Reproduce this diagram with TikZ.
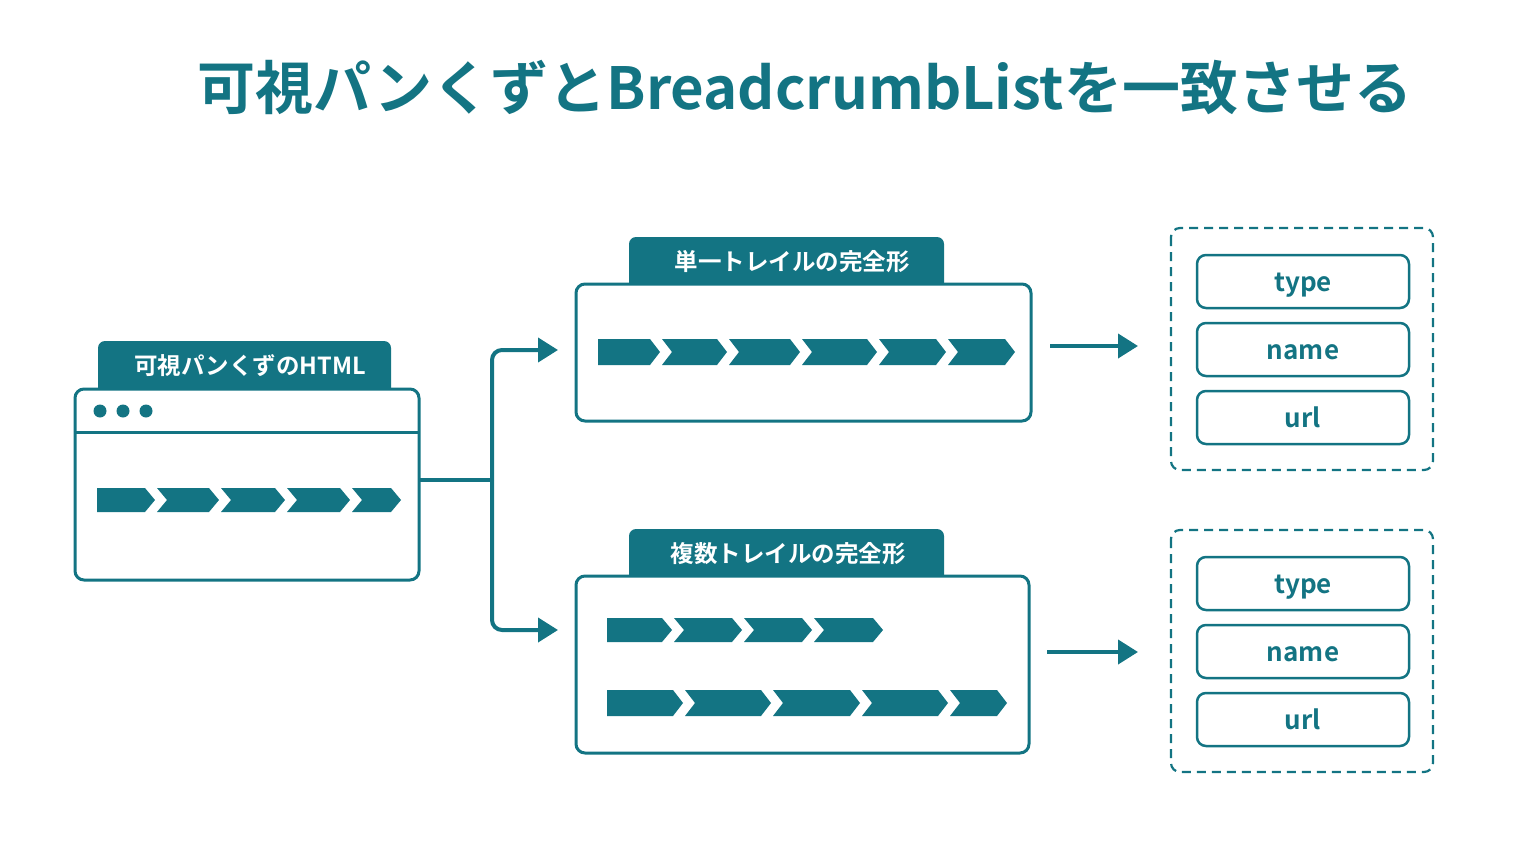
\documentclass[tikz,border=0pt]{standalone}
\usepackage{fontspec}
\setmainfont{Noto Sans CJK JP}
\newfontfamily\jpb{Noto Sans CJK JP Bold}
\usetikzlibrary{arrows.meta}
\definecolor{tl}{HTML}{137483}
\newcommand{\chevA}[4]{\fill[tl] (#1,#3)--(#2-10,#3)--(#2,{(#3+#4)/2})--(#2-10,#4)--(#1,#4)--cycle;}
\newcommand{\chevB}[4]{\fill[tl] (#1+2,#3)--(#2-10,#3)--(#2,{(#3+#4)/2})--(#2-10,#4)--(#1+2,#4)--(#1+12,{(#3+#4)/2})--cycle;}
\tikzset{box/.style={draw=tl,line width=3pt,rounded corners=9pt,fill=white},
tabtxt/.style={text=white,font=\jpb\fontsize{23.5}{25}\selectfont},
fld/.style={draw=tl,line width=2.5pt,rounded corners=9pt,minimum width=212pt,minimum height=53pt,text=tl,font=\jpb\fontsize{26}{28}\selectfont,text height=19pt,text depth=0pt},
dbox/.style={draw=tl,line width=2.2pt,dash pattern=on 9pt off 6pt,rounded corners=9pt},
con/.style={draw=tl,line width=4pt},
arr/.style={con,-{Triangle[length=20pt,width=24pt]}}}
\begin{document}
\begin{tikzpicture}[x=1pt,y=-1pt]
\useasboundingbox (0,0) rectangle (1536,864);
\node[text=tl,font=\jpb\fontsize{58}{60}\selectfont] (title) at (805,88) {可視パンくずとBreadcrumbListを一致させる};
% left
\fill[tl,rounded corners=7pt] (98,395) rectangle (391,341);
\node[tabtxt] (t1) at (250,366) {可視パンくずのHTML};
\draw[box] (75,389) rectangle (419,580);
\coordinate (lr) at (419,480);
\draw[tl,line width=3pt] (75,432)--(419,432);
\foreach \x in {100,123,146} \fill[tl] (\x,411) circle (6.5);
\chevA{97}{155}{488}{512}
\chevB{155}{219}{488}{512}
\chevB{219}{285}{488}{512}
\chevB{285}{350}{488}{512}
\chevB{350}{401}{488}{512}
% top middle
\fill[tl,rounded corners=7pt] (629,237) rectangle (944,290);
\node[tabtxt] (t2) at (792,262) {単一トレイルの完全形};
\draw[box] (576,284) rectangle (1031,421);
\coordinate (ta) at (558,350);
\chevA{598}{660}{339}{365}
\chevB{660}{727}{339}{365}
\chevB{727}{800}{339}{365}
\chevB{800}{877}{339}{365}
\chevB{877}{946}{339}{365}
\chevB{946}{1015}{339}{365}
% bottom middle
\fill[tl,rounded corners=7pt] (629,529) rectangle (944,582);
\node[tabtxt] (t3) at (788,554) {複数トレイルの完全形};
\draw[box] (576,576) rectangle (1029,753);
\coordinate (ba) at (558,630);
\chevA{607}{672}{618}{642}
\chevB{672}{742}{618}{642}
\chevB{742}{812}{618}{642}
\chevB{812}{883}{618}{642}
\chevA{607}{683}{690}{716}
\chevB{683}{771}{690}{716}
\chevB{771}{860}{690}{716}
\chevB{860}{948}{690}{716}
\chevB{948}{1007}{690}{716}
% connectors
\draw[con] (lr)--(492,480);
\draw[arr,rounded corners=10pt] (492,480)|-(ta);
\draw[arr,rounded corners=10pt] (492,480)|-(ba);
\coordinate (a1s) at (1050,346); \coordinate (a1e) at (1138,346);
\coordinate (a2s) at (1047,652); \coordinate (a2e) at (1138,652);
\draw[arr] (a1s)--(a1e);
\draw[arr] (a2s)--(a2e);
% right
\draw[dbox] (1171,228) rectangle (1433,470);
\node[fld] (f1) at (1303,281.5) {type};
\node[fld] (f2) at (1303,349.5) {name};
\node[fld] (f3) at (1303,417.5) {url};
\draw[dbox] (1171,530) rectangle (1433,772);
\node[fld] (g1) at (1303,583.5) {type};
\node[fld] (g2) at (1303,651.5) {name};
\node[fld] (g3) at (1303,719.5) {url};
\end{tikzpicture}
\end{document}
